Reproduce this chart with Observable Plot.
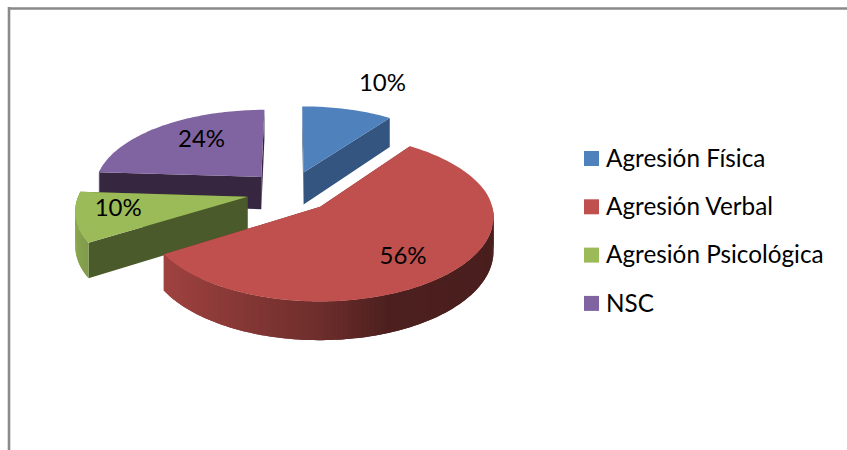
<!DOCTYPE html>
<html>
<head>
<meta charset="utf-8">
<script src="https://cdn.jsdelivr.net/npm/d3@7"></script>
<script src="https://cdn.jsdelivr.net/npm/@observablehq/plot@0.6"></script>
<style>html,body{margin:0;padding:0;background:#fff}svg{display:block}</style>
</head>
<body>
<div id="chart"></div>
<script>
// Data
const categories = ["Agresión Física", "Agresión Verbal", "Agresión Psicológica", "NSC"];
const values = [10, 56, 10, 24];
const labels = ["10%", "56%", "10%", "24%"];

// Styles
const topColors = ["#4f81bd", "#c0504d", "#9bbb59", "#8064a2"];
const wallColors = ["#33557f", "#6e2d2a", "#4b5a2a", "#37263f"];
const paintOrder = [0, 3, 2, 1];
const labelAngles = [22.4, 141, 259.2, 323];
const labelRadii = [1.519, 0.715, 0.755, 0.663];

// Pie projection settings
const W = 847, H = 450;
const cx = 290, cy = 191, radius = 168, vertical = 78.8, persp = 0.124, skew = 5;
const explode = 0.26, depth = 33;
const total = d3.sum(values);
const rad = d => d * Math.PI / 180;
const shade = d3.scaleLinear().domain([-1, -0.84, 0, 0.35, 1]).range([0.9, 0.83, 0.57, 0.4, 0.38]);

function project(X, Z, drop = 0) {
  const s = 1 / (1 - persp * Z);
  return {x: cx + X * radius * s - skew * Math.max(Z, 0), y: cy + vertical * Z * s + drop * s};
}

let acc = 0;
const slices = values.map((v, i) => {
  const a0 = acc / total * 360;
  acc += v;
  const a1 = acc / total * 360;
  const mid = (a0 + a1) / 2;
  return {i, a0, a1, ox: explode * Math.sin(rad(mid)), oz: -explode * Math.cos(rad(mid))};
});
const onDisk = (s, angle, r = 1, drop = 0) =>
  project(s.ox + r * Math.sin(rad(angle)), s.oz - r * Math.cos(rad(angle)), drop);
const arcAngles = (a0, a1, step = 1.2) => {
  const n = Math.ceil((a1 - a0) / step);
  return d3.range(n + 1).map(k => a0 + (a1 - a0) * k / n);
};
const tint = (c, f) => {
  const q = d3.rgb(c);
  return d3.rgb(q.r * f, q.g * f, q.b * f).formatHex();
};

const polys = [];
let pid = 0;
const addPoly = (pts, color) => { const id = pid++; pts.forEach(p => polys.push({...p, id, color})); };

for (const i of paintOrder) {
  const s = slices[i];
  const apex = project(s.ox, s.oz), apexLow = project(s.ox, s.oz, depth);
  for (const a of [s.a1, s.a0]) {
    addPoly([apex, onDisk(s, a), onDisk(s, a, 1, depth), apexLow], wallColors[i]);
  }
  if (s.a1 > 90 && s.a0 < 275) {
    const near = arcAngles(Math.max(s.a0, 90), Math.min(s.a1, 275));
    for (let k = 0; k < near.length - 1; k++) {
      const f = shade(Math.sin(rad((near[k] + near[k + 1]) / 2)));
      // each strip overlaps the next so no seam shows between them
      const strip = near.slice(k, k + 3);
      addPoly([
        ...strip.map(a => onDisk(s, a)),
        ...strip.slice().reverse().map(a => onDisk(s, a, 1, depth))
      ], tint(topColors[i], f));
    }
  }
  addPoly([apex, ...arcAngles(s.a0, s.a1).map(a => onDisk(s, a))], topColors[i]);
}

const labelRows = labels.map((t, i) => ({t, ...onDisk(slices[i], labelAngles[i], labelRadii[i])}));

// Legend layout
const legendX = 584, legendTop = 151, legendStep = 48.3, swatch = 15, legendTextX = 605.5;
const legendRows = categories.map((name, i) => ({
  name, color: topColors[i],
  x1: legendX, x2: legendX + swatch,
  y1: legendTop + i * legendStep, y2: legendTop + i * legendStep + swatch,
  tx: legendTextX, ty: legendTop + i * legendStep + swatch / 2
}));

const font = "Lato, 'Open Sans', sans-serif";
const chart = Plot.plot({
  width: W, height: H, margin: 0,
  x: {domain: [0, W], range: [0, W], axis: null},
  y: {domain: [0, H], range: [0, H], axis: null},
  style: {background: "#fff"},
  marks: [
    Plot.ruleY([8], {x1: 8, x2: W, stroke: "#8a8a8a", strokeWidth: 2.4}),
    Plot.ruleX([8.5], {y1: 7, y2: H, stroke: "#8a8a8a", strokeWidth: 2.6}),
    Plot.line(polys, {x: "x", y: "y", z: "id", fill: "color", stroke: "none"}),
    Plot.text(labelRows, {x: "x", y: "y", text: "t", fill: "#000", fontSize: 24, fontFamily: font}),
    Plot.rect(legendRows, {x1: "x1", x2: "x2", y1: "y1", y2: "y2", fill: "color"}),
    Plot.text(legendRows, {x: "tx", y: "ty", text: "name", textAnchor: "start", fill: "#000", fontSize: 24.3, fontFamily: font})
  ]
});
document.getElementById("chart").append(chart);
</script>
</body>
</html>
